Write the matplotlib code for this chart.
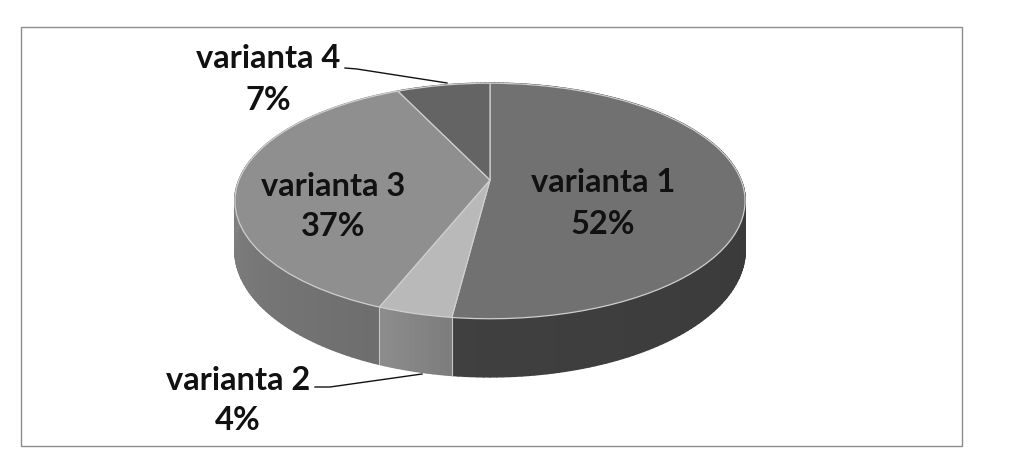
"""Perspective 3-D style pie chart of the four variants, in greyscale."""
import numpy as np
import matplotlib
matplotlib.use("Agg")
import matplotlib.pyplot as plt
from matplotlib.collections import PolyCollection
from matplotlib.patches import Rectangle
from matplotlib.transforms import Transform

CATEGORIES = ["varianta 1", "varianta 2", "varianta 3", "varianta 4"]
VALUES = [52, 4, 37, 7]
TOP_COLORS = ["#717171", "#b9b9b9", "#8f8f8f", "#646464"]
WALL_START = [0.20, 0.49, 0.43, 0.30]  # grey level at the slice's start angle
WALL_END = [0.25, 0.55, 0.57, 0.30]    # grey level at the slice's end angle

# projection from the unit circle to figure pixels
CX, CY = 490.0, 180.0
SX, SY, PERSP = 251.0, -82.0, 0.178
DEPTH = 47.7


def project(x, y, drop=0.0):
    w = 1.0 + PERSP * y
    return CX + SX * x / w, (SY * y + CY + drop) / w


class TiltTransform(Transform):
    input_dims = 2
    output_dims = 2

    def transform_non_affine(self, values):
        values = np.asarray(values, dtype=float)
        px, py = project(values[:, 0], values[:, 1])
        return np.column_stack([px, py])


def draw_walls(ax):
    fracs = np.cumsum([0] + VALUES) / sum(VALUES)
    for i in range(len(VALUES)):
        steps = np.linspace(fracs[i], fracs[i + 1], max(VALUES[i] * 3, 8) + 1)
        shade = np.linspace(WALL_START[i], WALL_END[i], len(steps) - 1)
        polys, greys = [], []
        for a, b, g in zip(steps[:-1], steps[1:], shade):
            ang = np.radians(90.0 - 360.0 * np.linspace(a, b, 4))
            x, y = np.cos(ang), np.sin(ang)
            top = np.column_stack(project(x, y))
            bottom = np.column_stack(project(x, y, DEPTH))
            polys.append(np.vstack([top, bottom[::-1]]))
            greys.append((g, g, g))
        # thick same-colour edges so the neighbouring strips leave no hairlines
        ax.add_collection(PolyCollection(polys, facecolors=greys, edgecolors=greys,
                                         linewidths=1.2, zorder=1))

    # pale seams where the slices meet on the wall
    for f in fracs[1:3]:
        ang = np.radians(90.0 - 360.0 * f)
        x, y = np.cos(ang), np.sin(ang)
        x0, y0 = project(x, y)
        x1, y1 = project(x, y, DEPTH)
        ax.plot([x0, x1], [y0, y1], color="#c8c8c8", lw=0.8, zorder=1.5)


def main():
    fig = plt.figure(figsize=(10.23, 4.71), dpi=100)
    ax = fig.add_axes([0, 0, 1, 1])

    draw_walls(ax)

    wedges, _ = ax.pie(
        VALUES,
        colors=TOP_COLORS,
        startangle=90,
        counterclock=False,
        wedgeprops={"transform": TiltTransform() + ax.transData,
                    "edgecolor": "#cfcfcf", "linewidth": 0.9},
    )
    for w in wedges:
        w.set_zorder(2)

    ax.set_aspect("auto")
    ax.set_xlim(0, 1023)
    ax.set_ylim(471, 0)
    ax.axis("off")

    ax.add_patch(Rectangle((20.5, 27), 941, 419, facecolor="none",
                           edgecolor="#8c8c8c", linewidth=1.0, zorder=0))

    # leader lines for the two outside labels
    ax.plot([345, 357, 447], [68, 69, 83], color="#111111", lw=1.0, zorder=3)
    ax.plot([315, 330, 422], [387, 387, 374], color="#111111", lw=1.0, zorder=3)

    label_pos = [(603, 183, 224), (238, 380, 421), (333, 186, 227), (268, 59, 101)]
    for name, val, (x, y1, y2) in zip(CATEGORIES, VALUES, label_pos):
        ax.text(x, y1, name, ha="center", va="center", family="Lato",
                fontweight="bold", fontsize=23.5, color="#111111", zorder=4)
        ax.text(x, y2, f"{val}%", ha="center", va="center", family="Lato",
                fontweight="bold", fontsize=23.5, color="#111111", zorder=4)

    fig.savefig("out.png", dpi=100, facecolor="white")
    plt.close(fig)


if __name__ == "__main__":
    main()
